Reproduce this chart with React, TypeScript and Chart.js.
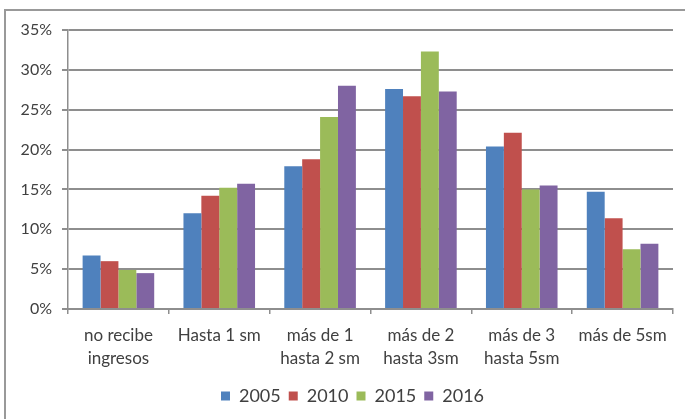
import React, { useEffect, useRef } from "react";
import { Chart, registerables } from "chart.js";

Chart.register(...registerables);

const categories: (string | string[])[] = [
  ["no recibe", "ingresos"],
  "Hasta 1 sm",
  ["más de 1", "hasta 2 sm"],
  ["más de 2", "hasta 3sm"],
  ["más de 3", "hasta 5sm"],
  "más de 5sm",
];
const seriesNames = ["2005", "2010", "2015", "2016"];
const v2005 = [6.7, 12.0, 17.9, 27.6, 20.4, 14.7];
const v2010 = [6.0, 14.2, 18.8, 26.7, 22.1, 11.4];
const v2015 = [4.9, 15.2, 24.1, 32.3, 15.0, 7.5];
const v2016 = [4.5, 15.7, 28.0, 27.3, 15.5, 8.2];
const seriesColors = ["#4F81BD", "#C0504D", "#9BBB59", "#8064A2"];
const yTicks = [0, 5, 10, 15, 20, 25, 30, 35];

const FONT = "Lato, 'Liberation Sans', sans-serif";
const TEXT = "#404040";
const GRID = "#8e8e8e";

const legendShift = {
  id: "legendShift",
  afterLayout(chart: any) {
    const lg = chart.legend;
    if (lg) {
      lg.left += 16;
      lg.right += 16;
    }
  },
};

export default function App() {
  const ref = useRef<HTMLCanvasElement | null>(null);
  useEffect(() => {
    if (!ref.current) return;
    const values = [v2005, v2010, v2015, v2016];
    const chart = new Chart(ref.current, {
      type: "bar",
      data: {
        labels: categories,
        datasets: seriesNames.map((n, i) => ({
          label: n,
          data: values[i],
          backgroundColor: seriesColors[i],
          borderWidth: 0,
          categoryPercentage: 0.71,
          barPercentage: 1.0,
        })),
      },
      plugins: [legendShift],
      options: {
        animation: false,
        responsive: false,
        maintainAspectRatio: false,
        layout: { padding: { top: 30, right: 12, left: 0, bottom: 4 } },
        plugins: {
          tooltip: { enabled: false },
          legend: {
            position: "bottom",
            labels: {
              boxWidth: 9,
              boxHeight: 9,
              padding: 8,
              color: TEXT,
              font: { family: FONT, size: 18 },
            },
          },
        },
        scales: {
          x: {
            grid: {
              display: true,
              offset: true,
              drawOnChartArea: false,
              drawTicks: true,
              tickLength: 5,
              color: GRID,
              lineWidth: 1.5,
            },
            border: { display: true, color: GRID, width: 2 },
            ticks: {
              color: TEXT,
              padding: 10,
              maxRotation: 0,
              autoSkip: false,
              font: { family: FONT, size: 17, lineHeight: 1.35 },
            },
            afterFit: (s: any) => {
              s.height = 70;
            },
          },
          y: {
            min: 0,
            max: 35,
            afterBuildTicks: (s: any) => {
              s.ticks = yTicks.map((v) => ({ value: v }));
            },
            grid: {
              color: GRID,
              lineWidth: 2,
              drawTicks: true,
              tickLength: 6,
            },
            border: { display: true, color: GRID, width: 1.5 },
            ticks: {
              color: TEXT,
              padding: 10,
              font: { family: FONT, size: 16 },
              callback: (v: any) => v + "%",
            },
            afterFit: (s: any) => {
              s.width = 68;
            },
          },
        },
      },
    });
    return () => chart.destroy();
  }, []);

  return (
    <div
      style={{
        position: "fixed",
        left: 0,
        top: 0,
        width: 685,
        height: 419,
        background: "#fff",
        overflow: "hidden",
      }}
    >
      <div
        style={{
          position: "absolute",
          left: 4,
          top: 9,
          width: 700,
          height: 430,
          borderLeft: "2px solid #999",
          borderTop: "2px solid #999",
        }}
      />
      <canvas
        ref={ref}
        width={685}
        height={419}
        style={{ position: "absolute", left: 0, top: 0 }}
      />
    </div>
  );
}
